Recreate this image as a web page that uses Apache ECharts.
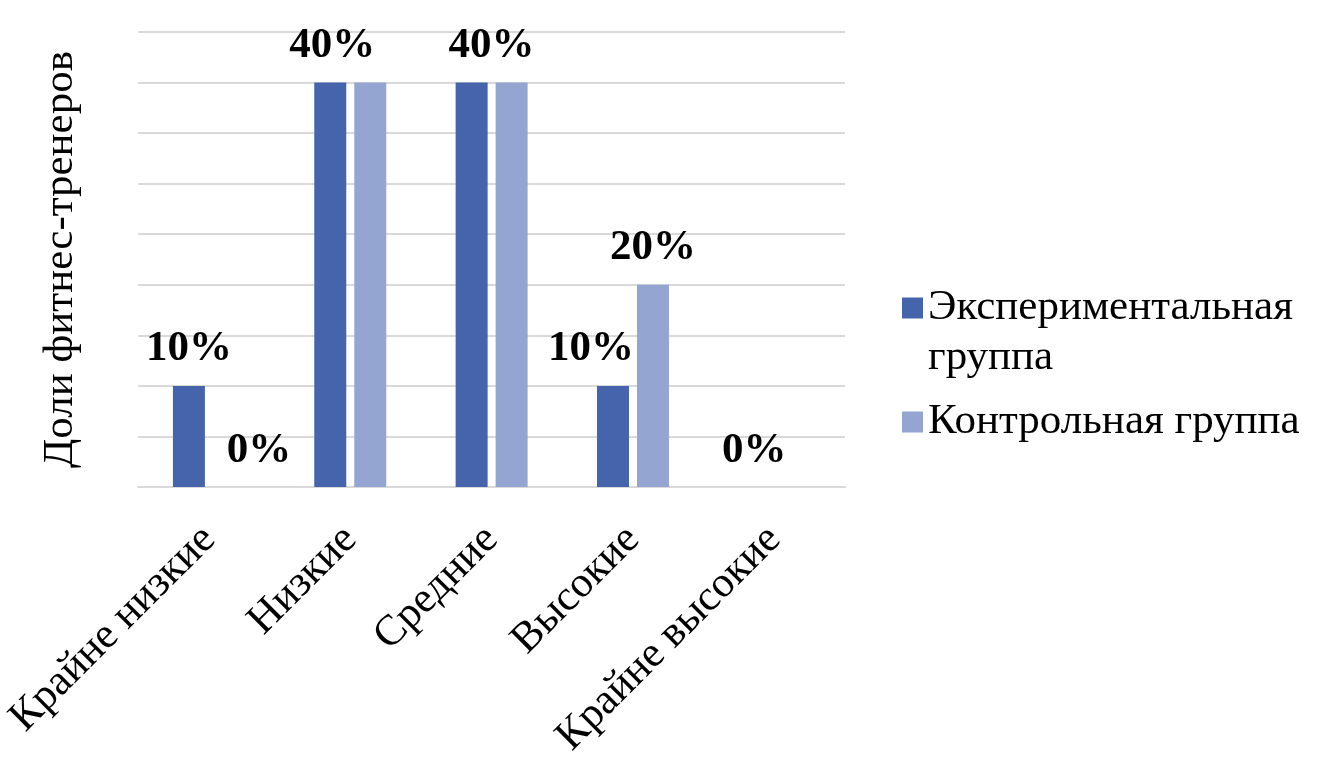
<!DOCTYPE html>
<html>
<head>
<meta charset="utf-8">
<script src="https://cdn.jsdelivr.net/npm/echarts@6/dist/echarts.min.js"></script>
<style>html,body{margin:0;padding:0;background:#fff}#c{width:1330px;height:776px}</style>
</head>
<body>
<div id="c"></div>
<script>
const categories = ['Крайне низкие', 'Низкие', 'Средние', 'Высокие', 'Крайне высокие'];
const seriesNames = ['Экспериментальная группа', 'Контрольная группа'];
const expValues = [10, 40, 40, 10, 0];
const ctrlValues = [0, 40, 40, 20, 0];
const yAxisTitle = 'Доли фитнес-тренеров';

// label layout (which labels Excel showed and how they were nudged)
const expLabelShow = [true, true, true, true, true];
const expLabelDx = [0, 2, 20, -22, 0];
const ctrlLabelShow = [true, false, false, true, false];
const ctrlLabelDx = [30, 0, 0, 0, 0];

const FONT = 'Liberation Serif';
const labelBase = {
  position: 'top', distance: 15, color: '#000', fontFamily: FONT,
  fontSize: 43, fontWeight: 'bold', formatter: p => p.value + '%'
};
function mk(values, show, dx) {
  return values.map((v, i) => ({
    value: v,
    label: Object.assign({}, labelBase, { show: show[i], offset: [dx[i], 0] })
  }));
}

const chart = echarts.init(document.getElementById('c'));
chart.setOption({
  animation: false,
  grid: { left: 137, right: 485, top: 32, bottom: 289 },
  legend: [
    {
      data: [{ name: seriesNames[0] }],
      orient: 'vertical', left: 897, top: 228,
      itemWidth: 21, itemHeight: 21, icon: 'rect',
      formatter: () => '\u00a0\nЭкспериментальная\nгруппа',
      textStyle: { fontFamily: FONT, fontSize: 43, color: '#000', lineHeight: 50 }
    },
    {
      data: [{ name: seriesNames[1] }],
      orient: 'vertical', left: 897, top: 392,
      itemWidth: 21, itemHeight: 21, icon: 'rect',
      textStyle: { fontFamily: FONT, fontSize: 43, color: '#000', lineHeight: 50 }
    }
  ],
  xAxis: {
    type: 'category', data: categories,
    axisLine: { show: true, lineStyle: { color: '#d9d9d9', width: 2 } },
    axisTick: { show: false },
    axisLabel: { rotate: 45, margin: 46, fontFamily: FONT, fontSize: 43, color: '#000', interval: 0 }
  },
  yAxis: {
    type: 'value', min: 0, max: 45, interval: 5,
    name: yAxisTitle, nameLocation: 'middle', nameRotate: 90, nameGap: 56,
    nameTextStyle: { fontFamily: FONT, fontSize: 43, color: '#000' },
    axisLabel: { show: false }, axisLine: { show: false }, axisTick: { show: false },
    splitLine: { lineStyle: { color: '#d9d9d9', width: 2 } }
  },
  series: [
    { name: seriesNames[0], type: 'bar', data: mk(expValues, expLabelShow, expLabelDx),
      barWidth: 32, barGap: '25%', itemStyle: { color: '#4564AC' } },
    { name: seriesNames[1], type: 'bar', data: mk(ctrlValues, ctrlLabelShow, ctrlLabelDx),
      barWidth: 32, barGap: '25%', itemStyle: { color: '#95A5D2' } }
  ]
});
</script>
</body>
</html>
